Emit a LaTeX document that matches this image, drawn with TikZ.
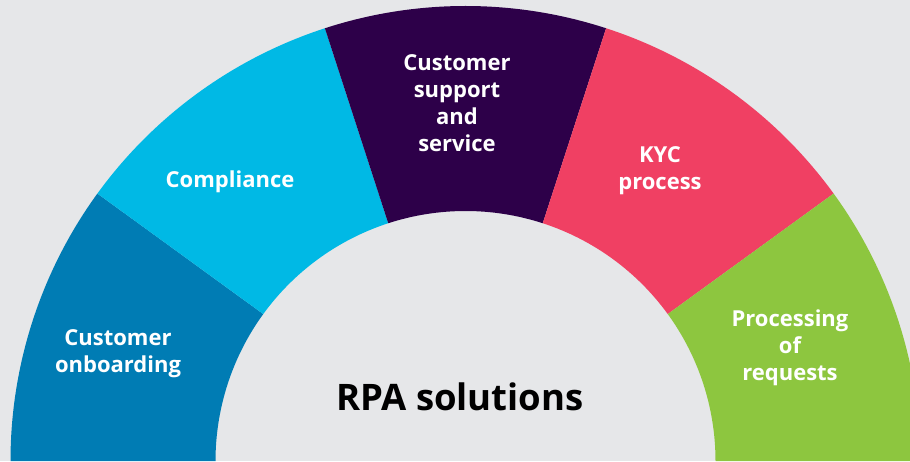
\documentclass[tikz,border=0pt]{standalone}
\usepackage{fontspec}
\setmainfont{Open Sans}
\usepackage{tikz}
\usetikzlibrary{positioning}
\definecolor{bgGray}{HTML}{E6E7E9}
\definecolor{onboardBlue}{HTML}{007CB4}
\definecolor{complianceCyan}{HTML}{00B9E5}
\definecolor{supportPurple}{HTML}{2D0049}
\definecolor{kycRed}{HTML}{F04063}
\definecolor{requestGreen}{HTML}{8DC63F}
\tikzset{
    %Define style for ring labels
    segment/.style={
           font=\bfseries\fontsize{22}{27}\selectfont,
           text=white,
           align=center,
           inner sep=0pt},
    %Define style for centre label
    hub/.style={
           font=\bfseries\fontsize{36.5}{40}\selectfont,
           text=black,
           inner sep=0pt}
}
\begin{document}
\begin{tikzpicture}[x=1pt,y=1pt]
 %background
\fill[bgGray] (0,0) rectangle (910,461);
\clip (0,0) rectangle (910,461);
\coordinate (c) at (465.5,0);
 %ring segments
\foreach \a/\col in {180/onboardBlue,144/complianceCyan,108/supportPurple,72/kycRed,36/requestGreen}
  \fill[\col] ([shift={(\a:455)}]c) arc[start angle=\a, delta angle=-36, radius=455]
     -- ([shift={(\a-36:250)}]c) arc[start angle=\a-36, delta angle=36, radius=250] -- cycle;
 %nodes
\node[segment](onboard) at (118,107){Customer\\onboarding};
\node[segment](comply) at (230,279){Compliance};
\node[segment](support) at (457,358){Customer\\support\\and\\service};
\node[segment](kyc) at (660,290){KYC\\process};
\node[segment](requests) at (790,113){Processing\\of\\requests};
\node[hub](rpa) at (460,64){RPA solutions};
\end{tikzpicture}
\end{document}
